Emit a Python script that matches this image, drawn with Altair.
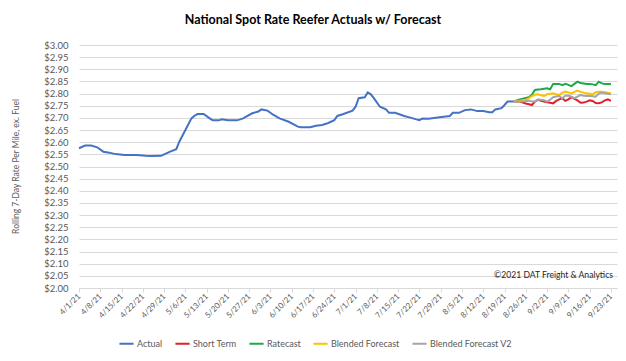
import altair as alt
import pandas as pd

title_text = "National Spot Rate Reefer Actuals w/ Forecast"
y_title = "Rolling 7-Day Rate Per Mile, ex. Fuel"
copyright_text = "\u00a92021 DAT Freight & Analytics"

series_names = ["Actual", "Short Term", "Ratecast", "Blended Forecast", "Blended Forecast V2"]
series_colors = ["#4472C4", "#E3202A", "#1FA84A", "#FFC000", "#A5A5A5"]

actual_dates = [
    "04-01", "04-03", "04-05", "04-07", "04-09", "04-11", "04-13", "04-16", "04-20", "04-23",
    "04-25", "04-28", "04-29", "05-01", "05-03", "05-04", "05-06", "05-08", "05-09", "05-10",
    "05-12", "05-14", "05-15", "05-17", "05-18", "05-20", "05-23", "05-25", "05-26", "05-28",
    "05-30", "05-31", "06-02", "06-04", "06-06", "06-09", "06-12", "06-13", "06-16", "06-18",
    "06-20", "06-22", "06-24", "06-25", "06-27", "06-30", "07-01", "07-02", "07-04", "07-05",
    "07-06", "07-07", "07-09", "07-11", "07-12", "07-14", "07-17", "07-19", "07-21", "07-22",
    "07-23", "07-25", "07-28", "07-30", "08-01", "08-02", "08-04", "08-06", "08-08", "08-10",
    "08-12", "08-14", "08-15", "08-16", "08-18", "08-19", "08-20", "08-22",
]
actual_values = [
    2.575, 2.586, 2.586, 2.579, 2.561, 2.557, 2.551, 2.547, 2.547, 2.544,
    2.543, 2.544, 2.550, 2.561, 2.571, 2.602, 2.650, 2.698, 2.709, 2.716,
    2.716, 2.698, 2.690, 2.690, 2.694, 2.690, 2.690, 2.698, 2.705, 2.719,
    2.726, 2.735, 2.730, 2.712, 2.698, 2.684, 2.664, 2.662, 2.662, 2.668,
    2.671, 2.679, 2.691, 2.708, 2.716, 2.730, 2.746, 2.781, 2.785, 2.805,
    2.797, 2.781, 2.746, 2.735, 2.721, 2.721, 2.708, 2.701, 2.694, 2.691,
    2.698, 2.697, 2.702, 2.705, 2.708, 2.721, 2.721, 2.732, 2.735, 2.728,
    2.728, 2.723, 2.723, 2.735, 2.740, 2.753, 2.767, 2.767,
]

forecast_dates = [
    "08-22", "08-23", "08-24", "08-25", "08-26", "08-27", "08-28", "08-29", "08-30", "08-31",
    "09-01", "09-02", "09-03", "09-04", "09-05", "09-06", "09-07", "09-08", "09-09", "09-10",
    "09-11", "09-12", "09-13", "09-14", "09-15", "09-16", "09-17", "09-18", "09-19", "09-20",
    "09-21", "09-22", "09-23",
]
short_term = [
    2.767, 2.767, 2.767, 2.763, 2.759, 2.756, 2.753, 2.767, 2.774, 2.770,
    2.767, 2.764, 2.762, 2.760, 2.770, 2.776, 2.781, 2.770, 2.776, 2.785,
    2.778, 2.772, 2.762, 2.763, 2.767, 2.772, 2.770, 2.761, 2.760, 2.764,
    2.772, 2.776, 2.770,
]
ratecast = [
    2.767, 2.772, 2.776, 2.779, 2.782, 2.785, 2.795, 2.815, 2.817, 2.818,
    2.820, 2.822, 2.818, 2.840, 2.840, 2.840, 2.835, 2.840, 2.836, 2.831,
    2.840, 2.849, 2.844, 2.842, 2.840, 2.840, 2.838, 2.835, 2.849, 2.842,
    2.840, 2.840, 2.840,
]
blended = [
    2.767, 2.769, 2.771, 2.773, 2.775, 2.780, 2.790, 2.795, 2.797, 2.793,
    2.790, 2.797, 2.799, 2.801, 2.797, 2.794, 2.804, 2.808, 2.805, 2.801,
    2.807, 2.812, 2.807, 2.804, 2.801, 2.799, 2.797, 2.806, 2.808, 2.808,
    2.806, 2.804, 2.801,
]
blended_v2 = [
    2.767, 2.767, 2.767, 2.767, 2.769, 2.771, 2.768, 2.767, 2.776, 2.775,
    2.773, 2.767, 2.775, 2.785, 2.788, 2.790, 2.781, 2.791, 2.792, 2.787,
    2.781, 2.788, 2.794, 2.791, 2.790, 2.790, 2.789, 2.787, 2.800, 2.804,
    2.801, 2.799, 2.797,
]

y_ticks = [2.00, 2.05, 2.10, 2.15, 2.20, 2.25, 2.30, 2.35, 2.40, 2.45, 2.50,
           2.55, 2.60, 2.65, 2.70, 2.75, 2.80, 2.85, 2.90, 2.95, 3.00]
x_tick_dates = [(4, 1), (4, 8), (4, 15), (4, 22), (4, 29), (5, 6), (5, 13), (5, 20), (5, 27),
                (6, 3), (6, 10), (6, 17), (6, 24), (7, 1), (7, 8), (7, 15), (7, 22), (7, 29),
                (8, 5), (8, 12), (8, 19), (8, 26), (9, 2), (9, 9), (9, 16), (9, 23)]

rows = []
for d, v in zip(actual_dates, actual_values):
    rows.append({"series": "Actual", "date": f"2021-{d}T00:00:00", "value": v, "order": 0})
for name, vals, o in [("Short Term", short_term, 1), ("Ratecast", ratecast, 2),
                      ("Blended Forecast", blended, 3), ("Blended Forecast V2", blended_v2, 4)]:
    for d, v in zip(forecast_dates, vals):
        rows.append({"series": name, "date": f"2021-{d}T00:00:00", "value": v, "order": o})
df = pd.DataFrame(rows)

FONT = "Lato"
GREY = "#595959"

x_enc = alt.X(
    "date:T",
    scale=alt.Scale(domain=[alt.DateTime(year=2021, month=4, date=1),
                            alt.DateTime(year=2021, month=9, date=25)]),
    axis=alt.Axis(
        values=[alt.DateTime(year=2021, month=m, date=d) for m, d in x_tick_dates],
        format="%-m/%-d/%y", labelAngle=-45, labelAlign="right", labelBaseline="middle",
        labelFontSize=8, labelColor=GREY, labelFont=FONT, labelPadding=3,
        grid=False, domainColor="#D9D9D9", tickColor="#D9D9D9", tickSize=4,
        title=None, labelOverlap=False,
    ),
)
y_enc = alt.Y(
    "value:Q",
    scale=alt.Scale(domain=[2.0, 3.0], nice=False, zero=False),
    axis=alt.Axis(
        values=y_ticks, format="$.2f", labelFontSize=9.5, labelColor=GREY, labelFont=FONT,
        labelPadding=11, domain=False, ticks=False, gridColor="#D9D9D9", gridWidth=1,
        title=y_title, titleFont=FONT, titleFontSize=8.5, titleFontWeight="normal",
        titleColor=GREY, titleX=-64, titleY=121, titleAngle=-90, titleAlign="center",
        titleBaseline="middle", labelOverlap=False,
    ),
)

lines = alt.Chart(df).mark_line(strokeWidth=2).encode(
    x=x_enc,
    y=y_enc,
    color=alt.Color(
        "series:N",
        scale=alt.Scale(domain=series_names, range=series_colors),
        legend=alt.Legend(
            orient="none", legendX=39, legendY=290, direction="horizontal", title=None,
            symbolType="stroke", symbolStrokeWidth=2, symbolSize=200, labelFontSize=9,
            labelFont=FONT, labelColor=GREY, columnPadding=8, labelOffset=2,
        ),
    ),
    order="order:Q",
)

note = alt.Chart(pd.DataFrame({"t": [copyright_text]})).mark_text(
    align="right", baseline="middle", font=FONT, fontSize=8.6, color="#262626"
).encode(text="t:N", x=alt.value(534), y=alt.value(230))

chart = alt.layer(lines, note).properties(
    width=538,
    height=243,
    autosize=alt.AutoSizeParams(type="none"),
    padding={"left": 71, "top": 37, "right": 1, "bottom": 65},
    title=alt.TitleParams(title_text, font=FONT, fontSize=12.5, fontWeight="bold",
                          color="#000000", anchor="middle", offset=14, dx=-35),
).configure_view(stroke=None)

chart.save("out.html", embed_options={"renderer": "svg", "actions": False})
